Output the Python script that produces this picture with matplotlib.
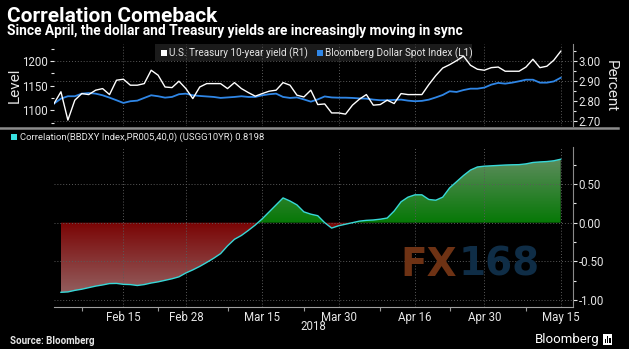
import numpy as np
import pandas as pd
import matplotlib
matplotlib.use("Agg")
import matplotlib.pyplot as plt
import matplotlib.transforms as mtransforms
from matplotlib.path import Path
from matplotlib.patches import Rectangle
from matplotlib.lines import Line2D
from matplotlib.colors import to_rgb

plt.rcParams['font.family'] = ['Roboto', 'DejaVu Sans']

#trading days shown on the chart
dates = pd.bdate_range("2018-02-01", "2018-05-15")

#US 10-year yield (right axis, percent)
yield_10y = [2.785, 2.844, 2.702, 2.802, 2.835, 2.83, 2.852, 2.86, 2.83, 2.902,
             2.907, 2.877, 2.877, 2.885, 2.952, 2.927, 2.868, 2.865, 2.897, 2.86,
             2.81, 2.868, 2.885, 2.885, 2.885, 2.86, 2.89, 2.86, 2.84, 2.822,
             2.835, 2.847, 2.852, 2.89, 2.877, 2.827, 2.818, 2.852, 2.78, 2.783,
             2.738, 2.738, 2.732, 2.777, 2.807, 2.83, 2.777, 2.78, 2.802, 2.785,
             2.835, 2.83, 2.83, 2.83, 2.88, 2.925, 2.963, 2.98, 3.00, 3.023,
             2.977, 2.957, 2.952, 2.965, 2.968, 2.947, 2.947, 2.947, 2.968, 3.007,
             2.965, 2.972, 3.002, 3.047]

#Bloomberg Dollar Spot Index (left axis, level)
bbdxy = [1113.4, 1123.6, 1128.4, 1128.4, 1133.7, 1135, 1133.7, 1130.4, 1125.6, 1120.3,
         1114.8, 1118.3, 1119.5, 1125, 1130.4, 1128.4, 1125.6, 1127, 1132.5, 1133.7,
         1130.4, 1129, 1128, 1127, 1125, 1126, 1127, 1128.4, 1127, 1127,
         1130.4, 1132.5, 1133.7, 1127, 1125, 1126, 1122, 1117.5, 1122, 1128,
         1126, 1125.5, 1125.5, 1125, 1124, 1123.6, 1121.6, 1120.3, 1120.3, 1121,
         1121.6, 1119.5, 1118.3, 1119, 1121.5, 1126, 1131, 1138.5, 1137.1, 1141,
         1143.8, 1143.8, 1146, 1152, 1155.5, 1154, 1156, 1158.8, 1162, 1162,
         1156, 1156, 1158.5, 1166]

#40-day correlation, starts on Feb 2
corr = [-0.90, -0.895, -0.875, -0.86, -0.84, -0.82, -0.805, -0.787, -0.785, -0.797,
        -0.80, -0.812, -0.80, -0.78, -0.765, -0.745, -0.725, -0.70, -0.65, -0.61,
        -0.565, -0.514, -0.46, -0.40, -0.30, -0.215, -0.165, -0.10, -0.03, 0.05,
        0.14, 0.23, 0.32, 0.28, 0.23, 0.14, 0.11, 0.09, 0.0, -0.07,
        -0.04, -0.02, 0.00, 0.02, 0.03, 0.035, 0.045, 0.06, 0.15, 0.27,
        0.33, 0.36, 0.36, 0.30, 0.29, 0.33, 0.45, 0.53, 0.61, 0.68,
        0.72, 0.73, 0.735, 0.74, 0.745, 0.748, 0.75, 0.76, 0.778, 0.785,
        0.79, 0.80, 0.8198]

tick_dates = ["2018-02-15", "2018-02-28", "2018-03-15", "2018-03-30",
              "2018-04-16", "2018-04-30", "2018-05-15"]
tick_labels = ["Feb 15", "Feb 28", "Mar 15", "Mar 30", "Apr 16", "Apr 30", "May 15"]
minor_dates = ["2018-02-07", "2018-02-22", "2018-03-08", "2018-03-23",
               "2018-04-09", "2018-04-23", "2018-05-08"]

x_all = np.arange(len(dates))
x_corr = x_all[len(dates) - len(corr):]
major_pos = [dates.get_loc(pd.Timestamp(d)) for d in tick_dates]
minor_pos = [dates.get_loc(pd.Timestamp(d)) for d in minor_dates]

W, H = 629, 349
def fx(px):
    return px / W
def fy(py):
    return 1 - py / H

grid_kw = dict(color='#5a5a5a', lw=0.7, linestyle=(0, (1, 2)))
txt = '#e6e6e6'

fig = plt.figure(figsize=(6.29, 3.49), dpi=100, facecolor='black')

#titles
fig.text(fx(7), fy(22), "Correlation Comeback", color='white', fontsize=15,
         fontweight='bold', va='baseline')
fig.text(fx(7), fy(35.5), "Since April, the dollar and Treasury yields are increasingly moving in sync",
         color='white', fontsize=9.9, fontweight='bold', va='baseline')

#---------- top panel ----------
ax1 = fig.add_axes([fx(54), fy(126), (572.5 - 54) / W, (126 - 44) / H])
ax1.set_facecolor('none')
ax2 = ax1.twinx()
ax2.set_facecolor('none')

ax1.plot(x_all, bbdxy, color='#2f86e6', lw=1.3, zorder=3)
ax2.plot(x_all, yield_10y, color='white', lw=1.0, zorder=3)

ax1.set_xlim(0, 74.7)
ax1.set_ylim(1068, 1234.5)
ax2.set_ylim(2.6725, 3.0835)

for p in major_pos:
    ax1.axvline(p, zorder=1, **grid_kw)
blend = mtransforms.blended_transform_factory(ax1.transAxes, ax2.transData)
for v in [3.0, 2.9, 2.7]:
    ax1.plot([0, 1], [v, v], transform=blend, zorder=1, **grid_kw)

ax1.set_yticks([1100, 1150, 1200])
ax1.set_yticks([1075, 1125, 1175, 1225], minor=True)
ax1.tick_params(axis='y', which='both', colors=txt, labelsize=8.3, width=0.8, pad=1.5)
ax1.tick_params(axis='y', which='major', length=3)
ax1.tick_params(axis='y', which='minor', length=2)
ax1.tick_params(axis='x', bottom=False, labelbottom=False)

ax2.set_yticks([2.7, 2.8, 2.9, 3.0])
ax2.set_yticklabels(["2.70", "2.80", "2.90", "3.00"])
ax2.set_yticks([2.75, 2.85, 2.95, 3.05], minor=True)
ax2.tick_params(axis='y', which='both', colors=txt, labelsize=8.3, width=0.8, pad=1.5)
ax2.tick_params(axis='y', which='major', length=3)
ax2.tick_params(axis='y', which='minor', length=2)

for a in (ax1, ax2):
    for s in a.spines.values():
        s.set_visible(False)
ax2.spines['right'].set_visible(True)
ax2.spines['right'].set_color('#8a8a8a')

fig.text(fx(15), fy(85), "Level", color=txt, fontsize=11, rotation=90, ha='center', va='center')
fig.text(fx(611), fy(86), "Percent", color=txt, fontsize=11, rotation=-90, ha='center', va='center')

#legend of the top panel
fig.add_artist(Rectangle((fx(155), fy(61)), (472 - 155) / W, (61 - 44) / H,
                         transform=fig.transFigure, facecolor='#1b1b1b', edgecolor='none', zorder=-1))
fig.add_artist(Rectangle((fx(161), fy(56)), 6 / W, 6 / H, transform=fig.transFigure,
                         facecolor='white', edgecolor='none', zorder=3))
fig.text(fx(169), fy(53), "U.S. Treasury 10-year yield (R1)", color=txt, fontsize=7.2, va='center')
fig.add_artist(Rectangle((fx(317), fy(56)), 6 / W, 6 / H, transform=fig.transFigure,
                         facecolor='#2f86e6', edgecolor='none', zorder=3))
fig.text(fx(325), fy(53), "Bloomberg Dollar Spot Index (L1)", color=txt, fontsize=7.2, va='center')

#separator between the panels
fig.add_artist(Line2D([0, fx(618)], [fy(127.5), fy(127.5)], transform=fig.transFigure,
                      color='#8c8c8c', lw=1.8))

#---------- bottom panel ----------
ax3 = fig.add_axes([fx(54), fy(306.7), (572.5 - 54) / W, (306.7 - 147) / H])
ax3.set_facecolor('none')

def gradient_fill(ax, x, y, mask, c_zero, c_far, far):
    coll = ax.fill_between(x, y, 0, where=mask, interpolate=True,
                           facecolor='none', edgecolor='none')
    clip = Path.make_compound_path(*coll.get_paths())
    t = np.linspace(0, 1, 256)[:, None, None]
    c0 = np.array(to_rgb(c_zero))
    c1 = np.array(to_rgb(c_far))
    img = c0 + (c1 - c0) * t
    lo, hi = sorted([0, far])
    if far < 0:
        img = img[::-1]
    im = ax.imshow(img, extent=[x[0], x[-1], lo, hi], origin='lower',
                   aspect='auto', interpolation='bilinear', zorder=1)
    im.set_clip_path(clip, ax.transData)

corr_arr = np.array(corr)
gradient_fill(ax3, x_corr, corr_arr, corr_arr <= 0, '#7a0404', '#946262', -0.95)
gradient_fill(ax3, x_corr, corr_arr, corr_arr >= 0, '#067806', '#5f8d5f', 0.85)
ax3.plot(x_corr, corr_arr, color='#38d8d8', lw=1.0, zorder=4)

ax3.set_xlim(0, 74.7)
ax3.set_ylim(-1.086, 0.978)

for p in major_pos:
    ax3.axvline(p, zorder=2, **grid_kw)
for v in [0.5, 0.0, -0.5, -1.0]:
    ax3.axhline(v, zorder=2, **grid_kw)

ax3.yaxis.tick_right()
ax3.set_yticks([-1.0, -0.5, 0.0, 0.5])
ax3.set_yticklabels(["-1.00", "-0.50", "0.00", "0.50"])
ax3.set_yticks([-0.75, -0.25, 0.25, 0.75], minor=True)
ax3.tick_params(axis='y', which='both', colors=txt, labelsize=8.3, width=0.8, pad=1.5)
ax3.tick_params(axis='y', which='major', length=3)
ax3.tick_params(axis='y', which='minor', length=2)

ax3.set_xticks(major_pos)
ax3.set_xticklabels(tick_labels)
ax3.set_xticks(minor_pos, minor=True)
ax3.tick_params(axis='x', which='major', length=0, colors=txt, labelsize=8.3, pad=3)
ax3.tick_params(axis='x', which='minor', length=3, width=0.8, colors='#9a9a9a')

for s in ax3.spines.values():
    s.set_visible(False)
ax3.spines['right'].set_visible(True)
ax3.spines['right'].set_color('#8a8a8a')
ax3.spines['bottom'].set_visible(True)
ax3.spines['bottom'].set_color('#a0a0a0')

fig.add_artist(Rectangle((fx(11), fy(140)), 6 / W, 6 / H, transform=fig.transFigure,
                         facecolor='#38e0e0', edgecolor='none', zorder=3))
fig.text(fx(19.5), fy(137), "Correlation(BBDXY Index,PR005,40,0) (USGG10YR) 0.8198",
         color=txt, fontsize=6.8, va='center')

#watermark
fig.text(fx(457), fy(265), "FX", color='#6e3214', fontsize=28, fontweight='bold',
         va='center', ha='right', family='DejaVu Sans')
fig.text(fx(459), fy(265), "168", color='#0f2d46', fontsize=28, fontweight='bold',
         va='center', ha='left', family='DejaVu Sans')

fig.text(fx(313), fy(327), "2018", color=txt, fontsize=8.3, ha='center', va='center')
fig.text(fx(10), fy(341), "Source: Bloomberg", color=txt, fontsize=7, fontweight='bold', va='center')
fig.text(fx(599), fy(340), "Bloomberg", color='white', fontsize=9.5, ha='right', va='center')
fig.add_artist(Rectangle((fx(603), fy(345)), 9 / W, 11 / H, transform=fig.transFigure,
                         facecolor='white', edgecolor='none', zorder=3))
for bx, bh in [(604.5, 4), (606.8, 7), (609.1, 5)]:
    fig.add_artist(Rectangle((fx(bx), fy(343)), 1.4 / W, bh / H, transform=fig.transFigure,
                             facecolor='black', edgecolor='none', zorder=4))

fig.savefig("out.png", dpi=100, facecolor='black')
